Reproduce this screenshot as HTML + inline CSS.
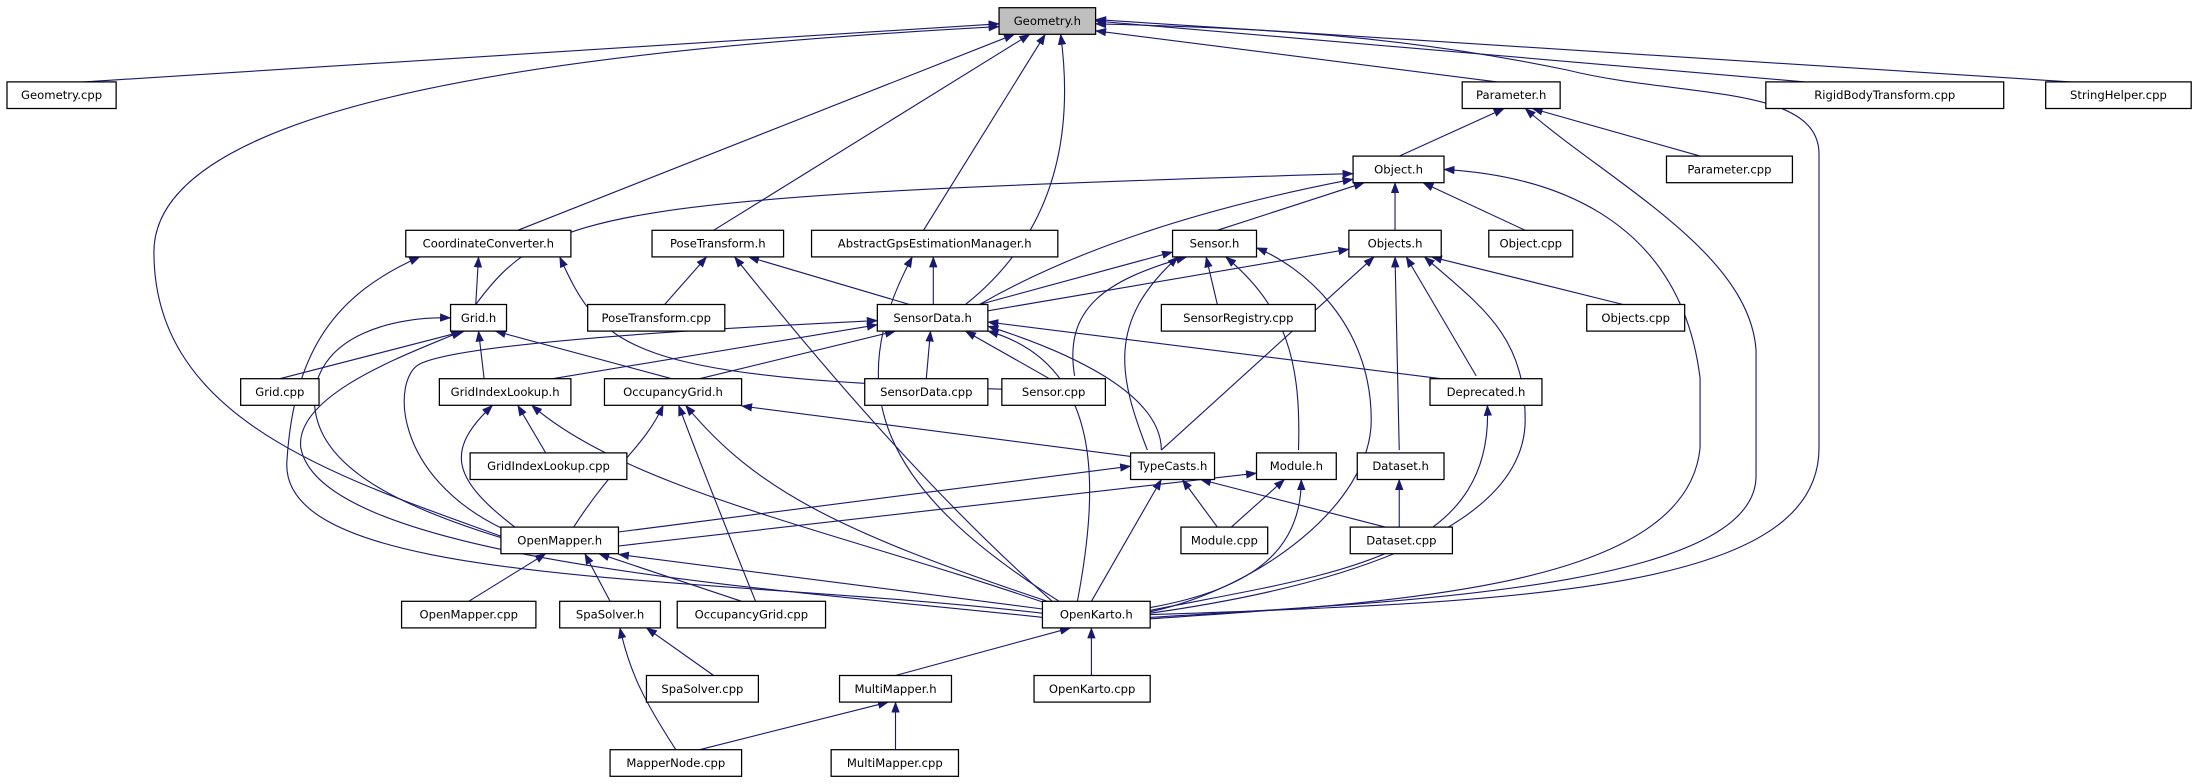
<!DOCTYPE html>
<html><head><meta charset="utf-8"><style>
html,body{margin:0;padding:0;background:#fff;}
svg{display:block;}
text{font-family:"DejaVu Sans","Liberation Sans",sans-serif;font-size:8.3px;fill:#000;text-anchor:middle;dominant-baseline:central;}
.n{fill:#fff;stroke:#000;stroke-width:0.9;}
.e{fill:none;stroke:#191970;stroke-width:0.8;marker-end:url(#a);}
</style></head><body>
<svg width="2194" height="784" viewBox="0 0 1568 560" preserveAspectRatio="none" xmlns="http://www.w3.org/2000/svg">
<defs><marker id="a" markerUnits="userSpaceOnUse" markerWidth="8" markerHeight="6" refX="7.5" refY="3" orient="auto"><path d="M0,0 L8,3 L0,6 z" fill="#191970"/></marker></defs>
<g>
<path class="e" d="M60,58.5 L714,17"/>
<path class="e" d="M358,383 C240,340 110,300 110,180 C110,70 420,35 714,19"/>
<path class="e" d="M370,164.5 L725,24.5"/>
<path class="e" d="M510,164.5 L736,24.5"/>
<path class="e" d="M660,164.5 L747,24.5"/>
<path class="e" d="M690,217.5 Q775,150 758,24.5"/>
<path class="e" d="M1070,58.5 L783,22"/>
<path class="e" d="M822,439 C1100,430 1300,420 1300,320 L1300,110 C1300,60 1200,70 1120,50 C1000,25 900,20 783,17"/>
<path class="e" d="M1290,58.5 L783,15"/>
<path class="e" d="M1480,58.5 L783,14"/>
<path class="e" d="M1000,111.5 L1075,77.5"/>
<path class="e" d="M1215,111.5 L1095,77.5"/>
<path class="e" d="M822,441 C1000,430 1255,420 1255,340 L1255,250 C1250,180 1150,130 1090,77.5"/>
<path class="e" d="M340,217.5 C390,150 430,140 967,124"/>
<path class="e" d="M700,217.5 Q800,160 967,128"/>
<path class="e" d="M870,164.5 L975,130.5"/>
<path class="e" d="M997,164.5 L997,130.5"/>
<path class="e" d="M1090,164.5 L1017,130.5"/>
<path class="e" d="M822,442 C1000,430 1205,420 1215,320 L1215,270 C1200,150 1100,125 1032,121"/>
<path class="e" d="M340,217.5 L342,183.5"/>
<path class="e" d="M745,438 C500,410 200,420 205,330 C210,250 240,210 300,183.5"/>
<path class="e" d="M716,278 C450,270 430,250 400,183.5"/>
<path class="e" d="M475,217.5 L505,183.5"/>
<path class="e" d="M650,217.5 L535,183.5"/>
<path class="e" d="M752,429.5 Q650,340 525,183.5"/>
<path class="e" d="M667,217.5 L667,183.5"/>
<path class="e" d="M757,429.5 C630,350 600,280 652,183.5"/>
<path class="e" d="M700,217.5 L838,180"/>
<path class="e" d="M870,217.5 L862,183.5"/>
<path class="e" d="M768,268.5 C760,220 790,200 848,183.5"/>
<path class="e" d="M820,321.5 C800,270 790,230 842,183.5"/>
<path class="e" d="M928,321.5 C930,260 920,220 876,183.5"/>
<path class="e" d="M822,437 C900,420 980,360 980,300 C980,230 930,190 898,177"/>
<path class="e" d="M706,222 L964,178"/>
<path class="e" d="M830,321.5 L982,183.5"/>
<path class="e" d="M1000,321.5 L997,183.5"/>
<path class="e" d="M1055,268.5 L1005,183.5"/>
<path class="e" d="M1160,217.5 L1023,183.5"/>
<path class="e" d="M822,438 C950,420 1090,380 1090,300 C1090,240 1060,220 1018,183.5"/>
<path class="e" d="M200,270.5 L332,236.5"/>
<path class="e" d="M346,270.5 L342,236.5"/>
<path class="e" d="M480,270.5 L354,236.5"/>
<path class="e" d="M358,384 C280,360 220,330 225,280 C230,240 280,226 322,227"/>
<path class="e" d="M745,441 C550,420 230,400 215,320 C210,280 300,250 330,236.5"/>
<path class="e" d="M395,270.5 L627,232"/>
<path class="e" d="M500,270.5 L640,236.5"/>
<path class="e" d="M662,270.5 L665,236.5"/>
<path class="e" d="M750,270.5 L690,236.5"/>
<path class="e" d="M1030,270.5 L706,230"/>
<path class="e" d="M830,321.5 C830,280 760,250 706,233"/>
<path class="e" d="M770,429.5 C785,350 790,260 706,236.5"/>
<path class="e" d="M360,378 C280,340 280,270 300,260 C330,245 500,235 627,229"/>
<path class="e" d="M390,323.5 L370,289.5"/>
<path class="e" d="M368,376.5 C320,340 320,320 352,289.5"/>
<path class="e" d="M748,431 C600,380 450,350 380,289.5"/>
<path class="e" d="M410,376.5 C440,330 460,320 474,289.5"/>
<path class="e" d="M540,429.5 C520,380 500,330 485,289.5"/>
<path class="e" d="M750,430 C600,380 540,350 490,289.5"/>
<path class="e" d="M808,326 L530,290"/>
<path class="e" d="M822,436 C950,410 1068,400 1063,289.5"/>
<path class="e" d="M442,380 L808,333"/>
<path class="e" d="M870,376.5 L845,342.5"/>
<path class="e" d="M990,376.5 L858,342.5"/>
<path class="e" d="M780,429.5 L830,342.5"/>
<path class="e" d="M442,390 L898,338"/>
<path class="e" d="M880,376.5 L918,342.5"/>
<path class="e" d="M822,434 C900,420 930,390 930,342.5"/>
<path class="e" d="M1000,376.5 L1000,342.5"/>
<path class="e" d="M335,429.5 L390,395.5"/>
<path class="e" d="M436,429.5 L418,395.5"/>
<path class="e" d="M530,429.5 L428,395.5"/>
<path class="e" d="M745,435 L442,396"/>
<path class="e" d="M510,482.5 L462,448.5"/>
<path class="e" d="M483,535.5 C460,500 450,480 443,448.5"/>
<path class="e" d="M640,482.5 L765,448.5"/>
<path class="e" d="M780,482.5 L780,448.5"/>
<path class="e" d="M500,535.5 L635,501.5"/>
<path class="e" d="M640,535.5 L640,501.5"/>
</g>
<g>
<rect x="714" y="5.5" width="69" height="19" style="fill:#bfbfbf;stroke:#000;stroke-width:0.9"/><text x="748.5" y="15">Geometry.h</text>
<rect class="n" x="5" y="58.5" width="78" height="19"/><text x="44" y="68">Geometry.cpp</text>
<rect class="n" x="1045" y="58.5" width="70" height="19"/><text x="1080" y="68">Parameter.h</text>
<rect class="n" x="1262" y="58.5" width="170" height="19"/><text x="1347" y="68">RigidBodyTransform.cpp</text>
<rect class="n" x="1462" y="58.5" width="104" height="19"/><text x="1514" y="68">StringHelper.cpp</text>
<rect class="n" x="967" y="111.5" width="65" height="19"/><text x="999.5" y="121">Object.h</text>
<rect class="n" x="1191" y="111.5" width="90" height="19"/><text x="1236" y="121">Parameter.cpp</text>
<rect class="n" x="290" y="164.5" width="118" height="19"/><text x="349" y="174">CoordinateConverter.h</text>
<rect class="n" x="466" y="164.5" width="94" height="19"/><text x="513" y="174">PoseTransform.h</text>
<rect class="n" x="580" y="164.5" width="176" height="19"/><text x="668" y="174">AbstractGpsEstimationManager.h</text>
<rect class="n" x="838" y="164.5" width="60" height="19"/><text x="868" y="174">Sensor.h</text>
<rect class="n" x="964" y="164.5" width="66" height="19"/><text x="997" y="174">Objects.h</text>
<rect class="n" x="1064" y="164.5" width="60" height="19"/><text x="1094" y="174">Object.cpp</text>
<rect class="n" x="322" y="217.5" width="40" height="19"/><text x="342" y="227">Grid.h</text>
<rect class="n" x="420" y="217.5" width="98" height="19"/><text x="469" y="227">PoseTransform.cpp</text>
<rect class="n" x="627" y="217.5" width="79" height="19"/><text x="666.5" y="227">SensorData.h</text>
<rect class="n" x="830" y="217.5" width="110" height="19"/><text x="885" y="227">SensorRegistry.cpp</text>
<rect class="n" x="1134" y="217.5" width="70" height="19"/><text x="1169" y="227">Objects.cpp</text>
<rect class="n" x="172" y="270.5" width="56" height="19"/><text x="200" y="280">Grid.cpp</text>
<rect class="n" x="314" y="270.5" width="94" height="19"/><text x="361" y="280">GridIndexLookup.h</text>
<rect class="n" x="432" y="270.5" width="98" height="19"/><text x="481" y="280">OccupancyGrid.h</text>
<rect class="n" x="618" y="270.5" width="88" height="19"/><text x="662" y="280">SensorData.cpp</text>
<rect class="n" x="716" y="270.5" width="74" height="19"/><text x="753" y="280">Sensor.cpp</text>
<rect class="n" x="1022" y="270.5" width="80" height="19"/><text x="1062" y="280">Deprecated.h</text>
<rect class="n" x="336" y="323.5" width="112" height="19"/><text x="392" y="333">GridIndexLookup.cpp</text>
<rect class="n" x="808" y="323.5" width="60" height="19"/><text x="838" y="333">TypeCasts.h</text>
<rect class="n" x="898" y="323.5" width="57" height="19"/><text x="926.5" y="333">Module.h</text>
<rect class="n" x="970" y="323.5" width="62" height="19"/><text x="1001" y="333">Dataset.h</text>
<rect class="n" x="358" y="376.5" width="84" height="19"/><text x="400" y="386">OpenMapper.h</text>
<rect class="n" x="844" y="376.5" width="62" height="19"/><text x="875" y="386">Module.cpp</text>
<rect class="n" x="965" y="376.5" width="73" height="19"/><text x="1001.5" y="386">Dataset.cpp</text>
<rect class="n" x="287" y="429.5" width="96" height="19"/><text x="335" y="439">OpenMapper.cpp</text>
<rect class="n" x="400" y="429.5" width="72" height="19"/><text x="436" y="439">SpaSolver.h</text>
<rect class="n" x="484" y="429.5" width="106" height="19"/><text x="537" y="439">OccupancyGrid.cpp</text>
<rect class="n" x="745" y="429.5" width="77" height="19"/><text x="783.5" y="439">OpenKarto.h</text>
<rect class="n" x="462" y="482.5" width="80" height="19"/><text x="502" y="492">SpaSolver.cpp</text>
<rect class="n" x="600" y="482.5" width="80" height="19"/><text x="640" y="492">MultiMapper.h</text>
<rect class="n" x="739" y="482.5" width="83" height="19"/><text x="780.5" y="492">OpenKarto.cpp</text>
<rect class="n" x="436" y="535.5" width="94" height="19"/><text x="483" y="545">MapperNode.cpp</text>
<rect class="n" x="594" y="535.5" width="91" height="19"/><text x="639.5" y="545">MultiMapper.cpp</text>
</g>
</svg>
</body></html>
